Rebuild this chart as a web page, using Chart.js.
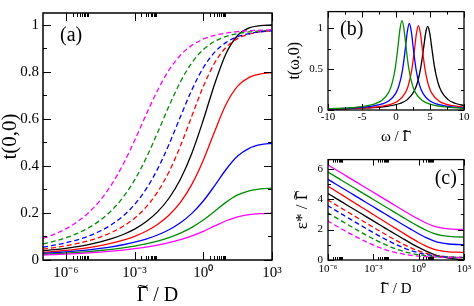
<!DOCTYPE html>
<html><head><meta charset="utf-8">
<script src="https://cdn.jsdelivr.net/npm/chart.js@4/dist/chart.umd.min.js"></script>
<style>
html,body{margin:0;padding:0;background:#fff;}
body{width:474px;height:306px;position:relative;overflow:hidden;}
canvas{position:absolute;}
</style></head><body>
<canvas id="ca" width="300" height="306" style="left:0;top:0;width:300px;height:306px"></canvas>
<canvas id="cb" width="194" height="150" style="left:280px;top:0;width:194px;height:150px"></canvas>
<canvas id="cc" width="194" height="158" style="left:280px;top:148px;width:194px;height:158px"></canvas>
<script>
// ---------- data ----------
// Gamma~/D sample points (panels a and c)
const gamma = [1e-7, 3.16e-7, 1e-6, 3.16e-6, 1e-5, 3.16e-5, 1e-4, 3.16e-4, 1e-3, 3.16e-3, 1e-2, 3.16e-2, 0.1, 0.316, 1, 3.16, 10, 31.6, 100, 316, 1000];

// panel (a): t(0,0)
const tBlack = [0.0389, 0.0438, 0.0498, 0.0569, 0.0657, 0.0767, 0.0905, 0.1083, 0.1315, 0.1625, 0.2044, 0.2625, 0.3433, 0.4539, 0.595, 0.7496, 0.879, 0.9546, 0.9865, 0.9964, 0.9992];
const tRed   = [0.0323, 0.0362, 0.0408, 0.0463, 0.0529, 0.0611, 0.0713, 0.0841, 0.1006, 0.1222, 0.1511, 0.1904, 0.2452, 0.3215, 0.4244, 0.5477, 0.663, 0.7392, 0.7762, 0.7912, 0.7969];
const tBlue  = [0.0279, 0.0309, 0.0344, 0.0385, 0.0433, 0.0491, 0.0561, 0.0648, 0.0755, 0.0890, 0.1062, 0.1287, 0.1585, 0.1983, 0.2509, 0.3164, 0.3857, 0.4417, 0.4747, 0.49, 0.4962];
const tGreen = [0.0240, 0.0263, 0.0291, 0.0322, 0.0359, 0.0403, 0.0455, 0.0518, 0.0594, 0.0688, 0.0805, 0.0953, 0.1143, 0.1388, 0.170, 0.2075, 0.246, 0.2765, 0.2942, 0.3024, 0.3057];
const tMag   = [0.0209, 0.0228, 0.0250, 0.0275, 0.0304, 0.0338, 0.0377, 0.0424, 0.0481, 0.0549, 0.0632, 0.0734, 0.0863, 0.1023, 0.122, 0.1447, 0.1669, 0.1836, 0.1931, 0.1973, 0.199];
const tDRed   = [0.0463, 0.0527, 0.0605, 0.0702, 0.0823, 0.0976, 0.1173, 0.1433, 0.178, 0.225, 0.2887, 0.3744, 0.4843, 0.6118, 0.7376, 0.8384, 0.9042, 0.9411, 0.9602, 0.97, 0.975];
const tDBlue  = [0.0546, 0.0629, 0.0731, 0.0859, 0.1021, 0.1231, 0.1506, 0.1872, 0.2361, 0.3012, 0.3862, 0.491, 0.6086, 0.7231, 0.8174, 0.8837, 0.9251, 0.949, 0.9625, 0.9701, 0.9745];
const tDGreen = [0.0683, 0.0799, 0.0944, 0.1131, 0.1372, 0.169, 0.2112, 0.2671, 0.3403, 0.4325, 0.5405, 0.6539, 0.7574, 0.8386, 0.8944, 0.9295, 0.9503, 0.9625, 0.9697, 0.974, 0.9766];
const tDMag   = [0.0918, 0.1096, 0.1326, 0.1626, 0.2021, 0.2541, 0.3218, 0.4071, 0.508, 0.6169, 0.7206, 0.8069, 0.8703, 0.9124, 0.9389, 0.955, 0.9647, 0.9707, 0.9744, 0.9767, 0.9781];

// panel (c): eps*/Gamma~
const vBlack = [4.97, 4.67, 4.37, 4.07, 3.77, 3.47, 3.17, 2.87, 2.57, 2.27, 1.973, 1.676, 1.383, 1.097, 0.825, 0.578, 0.371, 0.218, 0.117, 0.060, 0.029];
const vRed   = [5.47, 5.16, 4.85, 4.54, 4.23, 3.92, 3.61, 3.30, 2.99, 2.68, 2.371, 2.062, 1.755, 1.453, 1.165, 0.909, 0.713, 0.594, 0.537, 0.514, 0.505];
const vBlue  = [5.90, 5.60, 5.30, 5.00, 4.70, 4.40, 4.10, 3.80, 3.50, 3.20, 2.901, 2.602, 2.304, 2.011, 1.728, 1.470, 1.262, 1.124, 1.052, 1.020, 1.008];
const vGreen = [6.38, 6.08, 5.78, 5.48, 5.18, 4.88, 4.58, 4.28, 3.98, 3.68, 3.381, 3.082, 2.784, 2.491, 2.210, 1.955, 1.751, 1.618, 1.549, 1.519, 1.507];
const vMag   = [6.85, 6.55, 6.25, 5.95, 5.65, 5.35, 5.05, 4.75, 4.45, 4.15, 3.851, 3.552, 3.255, 2.962, 2.683, 2.431, 2.234, 2.108, 2.045, 2.017, 2.006];
const vDRed   = [4.54, 4.24, 3.94, 3.64, 3.34, 3.042, 2.743, 2.445, 2.149, 1.856, 1.570, 1.293, 1.032, 0.797, 0.597, 0.439, 0.326, 0.250, 0.204, 0.176, 0.160];
const vDBlue  = [4.161, 3.861, 3.562, 3.263, 2.966, 2.669, 2.375, 2.084, 1.799, 1.523, 1.261, 1.018, 0.802, 0.619, 0.473, 0.363, 0.285, 0.232, 0.197, 0.175, 0.162];
const vDGreen = [3.693, 3.394, 3.097, 2.801, 2.507, 2.217, 1.933, 1.656, 1.392, 1.146, 0.922, 0.728, 0.566, 0.439, 0.344, 0.276, 0.229, 0.197, 0.177, 0.163, 0.155];
const vDMag   = [3.145, 2.850, 2.558, 2.269, 1.987, 1.713, 1.452, 1.207, 0.984, 0.788, 0.623, 0.489, 0.386, 0.310, 0.255, 0.217, 0.191, 0.174, 0.162, 0.155, 0.150];

// panel (b): t(omega,0)
const omegaGreen = [-10, -7, -5, -3.12, -2.12, -1.12, -0.62, -0.12, 0.28, 0.58, 0.88, 1.18, 1.48, 1.88, 2.38, 2.88, 3.88, 4.88, 6.88, 10];
const tOmGreen   = [0.0154, 0.0264, 0.042, 0.0751, 0.1151, 0.2092, 0.3122, 0.5061, 0.7651, 0.9844, 1.09, 0.9844, 0.7651, 0.5061, 0.3122, 0.2092, 0.1151, 0.0751, 0.0407, 0.0208];
const omegaBlue  = [-10, -6.04, -4.04, -2.04, -1.04, -0.04, 0.46, 0.96, 1.36, 1.66, 1.96, 2.26, 2.56, 2.96, 3.46, 3.96, 4.96, 5.96, 7.96, 10];
const tOmBlue    = [0.0128, 0.0254, 0.0399, 0.0734, 0.1123, 0.2033, 0.3029, 0.4905, 0.7408, 0.9529, 1.055, 0.9529, 0.7408, 0.4905, 0.3029, 0.2033, 0.1123, 0.0734, 0.0399, 0.0251];
const omegaRed   = [-10, -4.7, -2.7, -0.7, 0.3, 1.3, 1.8, 2.3, 2.7, 3.0, 3.3, 3.6, 3.9, 4.3, 4.8, 5.3, 6.3, 7.3, 10];
const tOmRed     = [0.0104, 0.025, 0.0394, 0.0722, 0.1102, 0.1991, 0.2963, 0.4793, 0.7235, 0.9304, 1.03, 0.9304, 0.7235, 0.4793, 0.2963, 0.1991, 0.1102, 0.0722, 0.0332];
const omegaBlack = [-10, -3.34, -1.34, 0.66, 1.66, 2.66, 3.16, 3.66, 4.06, 4.36, 4.66, 4.96, 5.26, 5.66, 6.16, 6.66, 7.66, 8.66, 10];
const tOmBlack   = [0.0096, 0.0278, 0.0441, 0.0821, 0.1265, 0.2285, 0.336, 0.5265, 0.759, 0.9385, 1.02, 0.9385, 0.759, 0.5265, 0.336, 0.2285, 0.1265, 0.0821, 0.0529];
const tOmRef     = [0.0096, 0.0278, 0.0441, 0.0821, 0.1265, 0.2285, 0.336, 0.5265, 0.759, 0.9385, 1.02, 0.9385, 0.759, 0.5265, 0.336, 0.2285, 0.1265, 0.0821, 0.0529];

// tick values
const logMajor = [1e-6, 1e-3, 1, 1e3];
const logMinor = [2e-6,3e-6,4e-6,5e-6,6e-6,7e-6,8e-6,9e-6, 2e-3,3e-3,4e-3,5e-3,6e-3,7e-3,8e-3,9e-3, 2,3,4,5,6,7,8,9];
const yMajorA = [0, 0.2, 0.4, 0.6, 0.8, 1];
const yMinorA = [0.1, 0.3, 0.5, 0.7, 0.9];
const xMajorB = [-10, -5, 0, 5, 10];
const xMinorB = [-7.5, -2.5, 2.5, 7.5];
const yMajorB = [0, 0.5, 1];
const yMinorB = [0.25, 0.75];
const yMajorC = [0, 2, 4, 6];
const yMinorC = [1, 3, 5];

// ---------- helpers ----------
const FONT = "'Liberation Serif','Times New Roman',serif";
const SUP = {'-':'\u207B','0':'\u2070','1':'\u00B9','2':'\u00B2','3':'\u00B3','4':'\u2074','5':'\u2075','6':'\u2076','7':'\u2077','8':'\u2078','9':'\u2079'};
function pow10Label(v){ const e = Math.round(Math.log10(v)); return '10' + String(e).split('').map(c => SUP[c]).join(''); }
function pts(xs, ys){ return xs.map((x, i) => ({x: x, y: ys[i]})); }
function numLabel(v){ return String(+v.toFixed(2)); }

const RED = '#ff0000', BLUE = '#0000ff', GREEN = '#008b00', MAG = '#ff00ff', BLK = '#000000';

// tilde accent over the capital Gamma of an axis title
function drawTilde(ctx, scale) {
  const t = scale.options.title;
  if (!t || !t.display) return;
  const text = t.text, i = text.indexOf('\u0393');
  if (i < 0) return;
  const fs = t.font.size, lh = fs * (t.font.lineHeight || 1.2);
  const pad = Chart.helpers.toPadding(t.padding);
  ctx.save();
  ctx.font = fs + 'px ' + FONT;
  const W = ctx.measureText(text).width;
  const pre = ctx.measureText(text.slice(0, i)).width;
  const wG = ctx.measureText('\u0393').width;
  if (scale.isHorizontal()) {
    ctx.translate((scale.left + scale.right) / 2, scale.bottom - pad.bottom - lh / 2);
  } else {
    ctx.translate(scale.left + pad.top + lh / 2, (scale.top + scale.bottom) / 2);
    ctx.rotate(-Math.PI / 2);
  }
  ctx.translate(-W / 2 + pre + wG * 0.5, 0.3375 * fs - 0.2 * fs);
  ctx.scale(1.6, 1);
  ctx.fillStyle = '#000';
  ctx.textAlign = 'center';
  ctx.textBaseline = 'alphabetic';
  ctx.fillText('\u02DC', 0, 0);
  ctx.restore();
}

const frameTicks = {
  id: 'frameTicks',
  afterDraw(chart, args, o) {
    const ctx = chart.ctx, a = chart.chartArea, x = chart.scales.x, y = chart.scales.y;
    ctx.save();
    ctx.strokeStyle = '#000';
    ctx.lineWidth = 1;
    ctx.beginPath();
    const vx = (vals, len) => vals.forEach(v => {
      const p = Math.round(x.getPixelForValue(v)) + 0.5;
      ctx.moveTo(p, a.bottom); ctx.lineTo(p, a.bottom - len);
      ctx.moveTo(p, a.top); ctx.lineTo(p, a.top + len);
    });
    const vy = (vals, len) => vals.forEach(v => {
      const p = Math.round(y.getPixelForValue(v)) + 0.5;
      ctx.moveTo(a.left, p); ctx.lineTo(a.left + len, p);
      ctx.moveTo(a.right, p); ctx.lineTo(a.right - len, p);
    });
    vx(o.xMajor, o.major); vx(o.xMinor, o.minor);
    vy(o.yMajor, o.major); vy(o.yMinor, o.minor);
    ctx.stroke();
    ctx.lineWidth = o.frameWidth;
    ctx.strokeRect(a.left, a.top, a.right - a.left, a.bottom - a.top);
    ctx.fillStyle = '#000';
    ctx.font = o.labelSize + 'px ' + FONT;
    ctx.textBaseline = 'alphabetic';
    ctx.textAlign = o.labelAlign;
    const lx = o.labelAlign === 'right' ? a.right - o.labelDx : a.left + o.labelDx;
    ctx.fillText(o.label, lx, a.top + o.labelDy);
    ctx.restore();
    drawTilde(ctx, x);
    drawTilde(ctx, y);
  }
};

function lineDs(xs, ys, color, dashed) {
  return { data: pts(xs, ys), borderColor: color, borderWidth: 1.3, borderDash: dashed ? [5, 3] : [], clip: 0 };
}

function axisBase(extra) {
  return Object.assign({ bounds: 'data', grid: { display: false, drawTicks: false }, border: { display: false } }, extra);
}

function baseOptions(pad, scales, ft) {
  return {
    responsive: false, animation: false, devicePixelRatio: 1,
    layout: { autoPadding: false, padding: pad },
    elements: { point: { radius: 0 }, line: { cubicInterpolationMode: 'monotone', fill: false } },
    plugins: { legend: { display: false }, tooltip: { enabled: false }, frameTicks: ft },
    scales: scales
  };
}

// ---------- panel (a) ----------
new Chart(document.getElementById('ca'), {
  type: 'line',
  data: { datasets: [
    lineDs(gamma, tDMag, MAG, true), lineDs(gamma, tDGreen, GREEN, true),
    lineDs(gamma, tDBlue, BLUE, true), lineDs(gamma, tDRed, RED, true),
    lineDs(gamma, tMag, MAG, false), lineDs(gamma, tGreen, GREEN, false),
    lineDs(gamma, tBlue, BLUE, false), lineDs(gamma, tRed, RED, false),
    lineDs(gamma, tBlack, BLK, false)
  ]},
  options: baseOptions({ left: 0, top: 2, right: 28, bottom: 0 }, {
    x: axisBase({ type: 'logarithmic', min: 1e-7, max: 1e3,
      afterBuildTicks: s => { s.ticks = logMajor.map(v => ({ value: v })); },
      afterFit: s => { s.height = 46; },
      ticks: { callback: v => pow10Label(v), font: { family: FONT, size: 15 }, color: '#000', padding: 4, maxRotation: 0, autoSkip: false },
      title: { display: true, text: '\u0393 / D', font: { family: FONT, size: 20, lineHeight: 1 }, color: '#000', padding: 0 } }),
    y: axisBase({ type: 'linear', min: 0, max: 1.05,
      afterBuildTicks: s => { s.ticks = yMajorA.map(v => ({ value: v })); },
      afterFit: s => { s.width = 43; },
      ticks: { callback: v => numLabel(v), font: { family: FONT, size: 15 }, color: '#000', padding: 4 },
      title: { display: true, text: 't(0,0)', font: { family: FONT, size: 21, lineHeight: 1 }, color: '#000', padding: 0 } })
  }, { xMajor: logMajor, xMinor: logMinor, yMajor: yMajorA, yMinor: yMinorA, major: 8, minor: 4, frameWidth: 1.5,
       label: '(a)', labelSize: 20, labelAlign: 'left', labelDx: 17, labelDy: 28 }),
  plugins: [frameTicks]
});

// ---------- panel (b) ----------
new Chart(document.getElementById('cb'), {
  type: 'line',
  data: { datasets: [
    lineDs(omegaGreen, tOmGreen, GREEN, false), lineDs(omegaBlue, tOmBlue, BLUE, false),
    lineDs(omegaRed, tOmRed, RED, false), lineDs(omegaBlack, tOmBlack, BLK, false),
    Object.assign(lineDs(omegaBlack, tOmRef, '#b4b4b4', true), { borderDash: [4, 4], borderWidth: 1.2 })
  ]},
  options: baseOptions({ left: 0, top: 2, right: 10, bottom: 0 }, {
    x: axisBase({ type: 'linear', min: -10, max: 10,
      afterBuildTicks: s => { s.ticks = xMajorB.map(v => ({ value: v })); },
      afterFit: s => { s.height = 40; },
      ticks: { callback: v => numLabel(v), font: { family: FONT, size: 11 }, color: '#000', padding: 1, maxRotation: 0, autoSkip: false },
      title: { display: true, text: '\u03C9 / \u0393', font: { family: FONT, size: 15, lineHeight: 1 }, color: '#000', padding: { top: 0, bottom: 5 } } }),
    y: axisBase({ type: 'linear', min: 0, max: 1.2,
      afterBuildTicks: s => { s.ticks = yMajorB.map(v => ({ value: v })); },
      afterFit: s => { s.width = 48; },
      ticks: { callback: v => numLabel(v), font: { family: FONT, size: 11 }, color: '#000', padding: 5 },
      title: { display: true, text: 't(\u03C9,0)', font: { family: FONT, size: 16, lineHeight: 1 }, color: '#000', padding: { top: 7, bottom: 0 } } })
  }, { xMajor: xMajorB, xMinor: xMinorB, yMajor: yMajorB, yMinor: yMinorB, major: 6, minor: 3, frameWidth: 1.3,
       label: '(b)', labelSize: 20, labelAlign: 'left', labelDx: 12, labelDy: 23 }),
  plugins: [frameTicks]
});

// ---------- panel (c) ----------
new Chart(document.getElementById('cc'), {
  type: 'line',
  data: { datasets: [
    lineDs(gamma, vDMag, MAG, true), lineDs(gamma, vDGreen, GREEN, true),
    lineDs(gamma, vDBlue, BLUE, true), lineDs(gamma, vDRed, RED, true),
    lineDs(gamma, vMag, MAG, false), lineDs(gamma, vGreen, GREEN, false),
    lineDs(gamma, vBlue, BLUE, false), lineDs(gamma, vRed, RED, false),
    lineDs(gamma, vBlack, BLK, false)
  ]},
  options: baseOptions({ left: 0, top: 3, right: 10, bottom: 0 }, {
    x: axisBase({ type: 'logarithmic', min: 1e-6, max: 1e3,
      afterBuildTicks: s => { s.ticks = logMajor.map(v => ({ value: v })); },
      afterFit: s => { s.height = 46; },
      ticks: { callback: v => pow10Label(v), font: { family: FONT, size: 11 }, color: '#000', padding: 3, maxRotation: 0, autoSkip: false },
      title: { display: true, text: '\u0393 / D', font: { family: FONT, size: 15, lineHeight: 1 }, color: '#000', padding: { top: 0, bottom: 9 } } }),
    y: axisBase({ type: 'linear', min: 0, max: 6.6,
      afterBuildTicks: s => { s.ticks = yMajorC.map(v => ({ value: v })); },
      afterFit: s => { s.width = 48; },
      ticks: { callback: v => numLabel(v), font: { family: FONT, size: 11 }, color: '#000', padding: 5 },
      title: { display: true, text: '\u03B5* / \u0393', font: { family: FONT, size: 17, lineHeight: 1 }, color: '#000', padding: { top: 14, bottom: 0 } } })
  }, { xMajor: logMajor, xMinor: logMinor, yMajor: yMajorC, yMinor: yMinorC, major: 6, minor: 3, frameWidth: 1.3,
       label: '(c)', labelSize: 20, labelAlign: 'right', labelDx: 7, labelDy: 24 }),
  plugins: [frameTicks]
});
</script>
</body></html>
